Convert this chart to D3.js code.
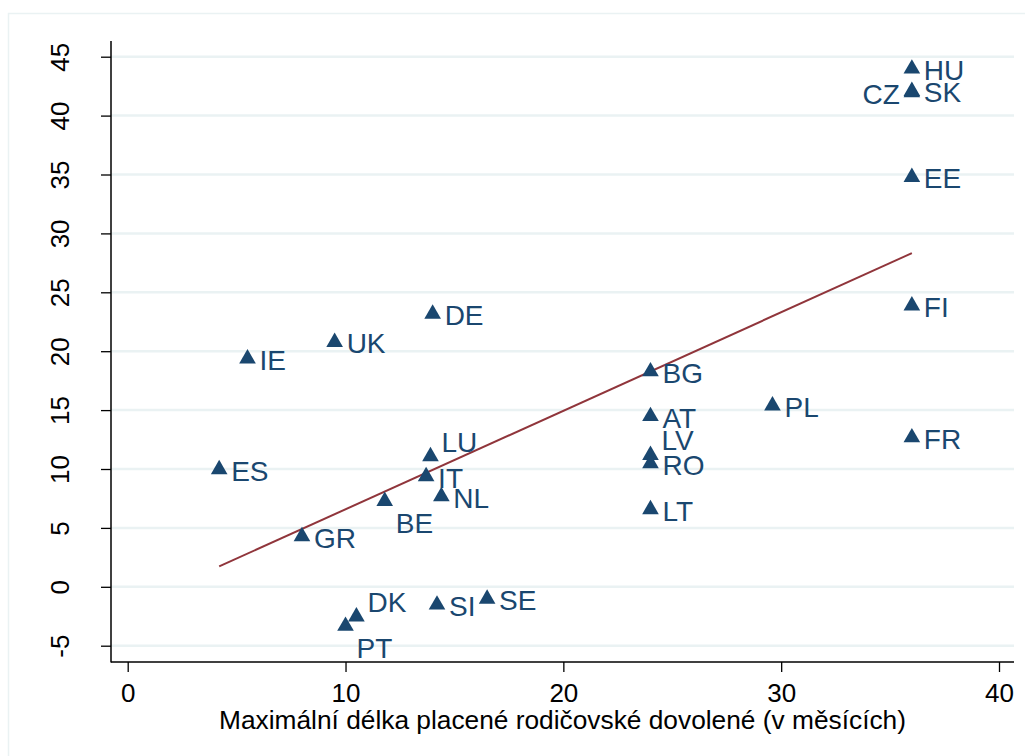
<!DOCTYPE html>
<html>
<head>
<meta charset="utf-8">
<script src="https://cdn.jsdelivr.net/npm/d3@7"></script>
<style>
  body { margin: 0; background: #fff; }
  text { font-family: "Liberation Sans", Arial, sans-serif; }
</style>
</head>
<body>
<script>
// Data
var countries = ["HU","SK","CZ","EE","FI","FR","PL","BG","AT","LV","RO","LT",
                 "DE","UK","IE","ES","LU","IT","NL","BE","GR","DK","PT","SI","SE"];
var leaveMonths = [36, 36, 36, 36, 36, 36, 29.6, 24, 24, 24, 24, 24,
                   14, 9.5, 5.5, 4.2, 13.9, 13.7, 14.4, 11.8, 8, 10.5, 10, 14.2, 16.5];
var gapValues = [44.1, 42.2, 42.1, 34.9, 24.0, 12.8, 15.5, 18.4, 14.6, 11.3, 10.6, 6.7,
                 23.3, 20.9, 19.5, 10.1, 11.2, 9.5, 7.8, 7.4, 4.4, -2.4, -3.2, -1.4, -0.9];
// label position as a clock hour (like Stata mlabvposition)
var labelClock = [3, 3, 9, 3, 3, 3, 3, 3, 3, 2, 3, 3,
                  3, 3, 3, 3, 2, 3, 3, 5, 3, 2, 5, 3, 3];
var xTicks = [0, 10, 20, 30, 40];
var yTicks = [-5, 0, 5, 10, 15, 20, 25, 30, 35, 40, 45];
var xTitle = "Maximální délka placené rodičovské dovolené (v měsících)";

var W = 1025, H = 756;
var plot = {left: 111, right: 1014, top: 41, bottom: 662};

var navy = "#1a476f", maroon = "#90353b", grid = "#eaf2f3";

var svg = d3.select("body").append("svg")
  .attr("width", W).attr("height", H);

// outer graph region border
svg.append("rect")
  .attr("x", 8.5).attr("y", 13.5)
  .attr("width", 1030).attr("height", 760)
  .attr("fill", "none").attr("stroke", grid).attr("stroke-width", 1.5);

var x = d3.scaleLinear().domain([0, 40]).range([127.7, 999]);
var y = d3.scaleLinear().domain([-5, 45]).range([645.7, 56.7]);

// gridlines
svg.append("g").selectAll("line")
  .data(yTicks).enter().append("line")
    .attr("x1", plot.left).attr("x2", plot.right)
    .attr("y1", function(d) { return y(d); })
    .attr("y2", function(d) { return y(d); })
    .attr("stroke", grid).attr("stroke-width", 2.5);

// y axis
var yAxis = svg.append("g")
  .attr("transform", "translate(" + plot.left + ",0)")
  .call(d3.axisLeft(y).tickValues(yTicks).tickSize(10)
    .tickFormat(function(d) { return String(d); }));
yAxis.select(".domain").remove();
yAxis.selectAll(".tick line").attr("stroke", "#000").attr("stroke-width", 1.3);
yAxis.selectAll(".tick text")
  .attr("font-size", 26).attr("fill", "#000")
  .attr("text-anchor", "middle")
  .attr("transform", "rotate(-90)")
  .attr("x", 0).attr("y", -42).attr("dy", 0);

// x axis
var xAxis = svg.append("g")
  .attr("transform", "translate(0," + plot.bottom + ")")
  .call(d3.axisBottom(x).tickValues(xTicks).tickSize(10).tickPadding(12));
xAxis.select(".domain").remove();
xAxis.selectAll(".tick line").attr("stroke", "#000").attr("stroke-width", 1.3);
xAxis.selectAll(".tick text")
  .attr("font-size", 26).attr("fill", "#000");

// axis lines
svg.append("line")
  .attr("x1", plot.left).attr("x2", plot.left)
  .attr("y1", plot.top).attr("y2", plot.bottom + 0.6)
  .attr("stroke", "#000").attr("stroke-width", 1.5);
svg.append("line")
  .attr("x1", plot.left).attr("x2", plot.right)
  .attr("y1", plot.bottom).attr("y2", plot.bottom)
  .attr("stroke", "#000").attr("stroke-width", 1.5);

// x title
svg.append("text")
  .attr("x", (plot.left + plot.right) / 2).attr("y", 729)
  .attr("text-anchor", "middle").attr("font-size", 26.3)
  .text(xTitle);

// linear fit
var n = leaveMonths.length;
var mx = d3.mean(leaveMonths), my = d3.mean(gapValues);
var sxy = 0, sxx = 0;
for (var i = 0; i < n; i++) {
  sxy += (leaveMonths[i] - mx) * (gapValues[i] - my);
  sxx += (leaveMonths[i] - mx) * (leaveMonths[i] - mx);
}
var slope = sxy / sxx, icpt = my - slope * mx;
var xExt = d3.extent(leaveMonths);
svg.append("line")
  .attr("x1", x(xExt[0])).attr("y1", y(icpt + slope * xExt[0]))
  .attr("x2", x(xExt[1])).attr("y2", y(icpt + slope * xExt[1]))
  .attr("stroke", maroon).attr("stroke-width", 2);

// points
var pts = countries.map(function(c, i) {
  return {name: c, x: leaveMonths[i], y: gapValues[i], pos: labelClock[i]};
});

svg.append("g").selectAll("path")
  .data(pts).enter().append("path")
    .attr("d", d3.symbol().type(d3.symbolTriangle).size(120))
    .attr("transform", function(d) {
      return "translate(" + x(d.x) + "," + (y(d.y) + 1.5) + ")";
    })
    .attr("fill", navy);

// labels, offsets by clock position
var offs = {
  3: {dx: 12, dy: 3, anchor: "start"},
  9: {dx: -12, dy: 3, anchor: "end"},
  2: {dx: 11, dy: -13, anchor: "start"},
  5: {dx: 11, dy: 24, anchor: "start"}
};
svg.append("g").selectAll("text")
  .data(pts).enter().append("text")
    .attr("x", function(d) { return x(d.x) + offs[d.pos].dx; })
    .attr("y", function(d) { return y(d.y) + offs[d.pos].dy; })
    .attr("dy", "0.35em")
    .attr("text-anchor", function(d) { return offs[d.pos].anchor; })
    .attr("font-size", 28)
    .attr("fill", navy)
    .text(function(d) { return d.name; });
</script>
</body>
</html>
